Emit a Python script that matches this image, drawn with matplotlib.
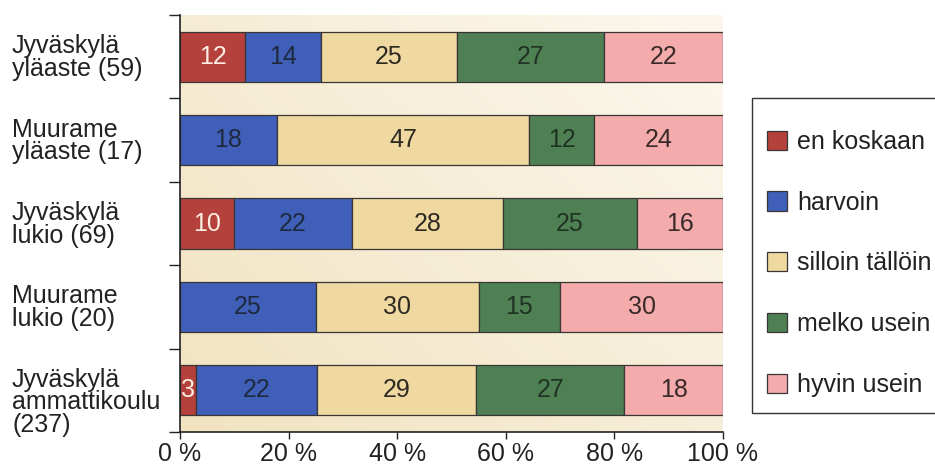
import numpy as np
import matplotlib.pyplot as plt
import matplotlib.transforms as mtransforms
from matplotlib.colors import LinearSegmentedColormap
from matplotlib.patches import Rectangle

plt.rcParams["font.family"] = ["Liberation Sans", "DejaVu Sans"]

groups = [
    "Jyväskylä\nyläaste (59)",
    "Muurame\nyläaste (17)",
    "Jyväskylä\nlukio (69)",
    "Muurame\nlukio (20)",
    "Jyväskylä\nammattikoulu\n(237)",
]
answers = ["en koskaan", "harvoin", "silloin tällöin", "melko usein", "hyvin usein"]

en_koskaan = [12, 0, 10, 0, 3]
harvoin = [14, 18, 22, 25, 22]
silloin_tallloin = [25, 47, 28, 30, 29]
melko_usein = [27, 12, 25, 15, 27]
hyvin_usein = [22, 24, 16, 30, 18]

series = [en_koskaan, harvoin, silloin_tallloin, melko_usein, hyvin_usein]
colors = ["#b4413c", "#3f5fb8", "#efd9a1", "#4f8054", "#f3abab"]
text_colors = ["#fbeee2", "#1e2a40", "#2e2a22", "#1f3322", "#3a2a2a"]

fig = plt.figure(figsize=(9.35, 4.65), dpi=100)
ax = fig.add_axes([180 / 935, 1 - 432 / 465, 543 / 935, 417 / 465])

# cream background that fades lighter towards the upper right
gx, gy = np.meshgrid(np.linspace(0, 1, 200), np.linspace(0, 1, 200))
grad = 0.55 * gx + 0.45 * (1 - gy)
bg = LinearSegmentedColormap.from_list("bg", ["#f1e3c0", "#fcf8ee"])
ax.imshow(grad, cmap=bg, extent=[0, 100, 4.5, -0.5], aspect="auto",
          zorder=0, interpolation="bilinear")

y = np.arange(len(groups))
totals = np.sum(series, axis=0)
left = np.zeros(len(groups))
for vals, name, col, tcol in zip(series, answers, colors, text_colors):
    vals = np.array(vals, dtype=float)
    width = vals / totals * 100
    ax.barh(y, width, left=left, height=0.6, color=col, edgecolor="#3a3535",
            linewidth=0.9, label=name, zorder=2)
    for yi, v, l, w in zip(y, vals, left, width):
        if v > 0:
            ax.text(l + w / 2, yi, f"{v:.0f}", ha="center", va="center",
                    fontsize=18, color=tcol, zorder=3)
    left += width

ax.set_xlim(0, 100)
ax.set_ylim(4.5, -0.5)
ax.set_xticks(range(0, 101, 20))
ax.set_xticklabels([f"{t} %" for t in range(0, 101, 20)], fontsize=18,
                   color="#222222")
ax.set_yticks(np.arange(-0.5, 5, 1))
ax.set_yticklabels([])
ax.tick_params(axis="y", length=8, width=1, color="#222222")
ax.tick_params(axis="x", length=5, width=1, color="#222222", pad=2)
for s in ["top", "right"]:
    ax.spines[s].set_visible(False)
for s in ["left", "bottom"]:
    ax.spines[s].set_color("#222222")
    ax.spines[s].set_linewidth(1.2)

# group names sit in the left margin, one block per bar
label_tf = mtransforms.blended_transform_factory(fig.transFigure, ax.transData)
for yi, g in zip(y, groups):
    ax.text(12 / 935, yi - 0.27, g, transform=label_tf, ha="left", va="top",
            fontsize=18, color="#222222", linespacing=0.93)

# legend box runs off the right edge of the figure
fig.patches.append(Rectangle((752 / 935, 1 - 413 / 465), 0.5, 315 / 465,
                             transform=fig.transFigure, facecolor="white",
                             edgecolor="#333333", linewidth=1.0, zorder=0))
leg = fig.legend(loc="upper left", bbox_to_anchor=(767 / 935, 1 - 130 / 465),
                 fontsize=18, frameon=False,
                 handlelength=0.8, handleheight=0.8, handletextpad=0.4,
                 labelspacing=1.47, borderpad=0, borderaxespad=0)
for t in leg.get_texts():
    t.set_color("#222222")

fig.savefig("out.png", dpi=100)
